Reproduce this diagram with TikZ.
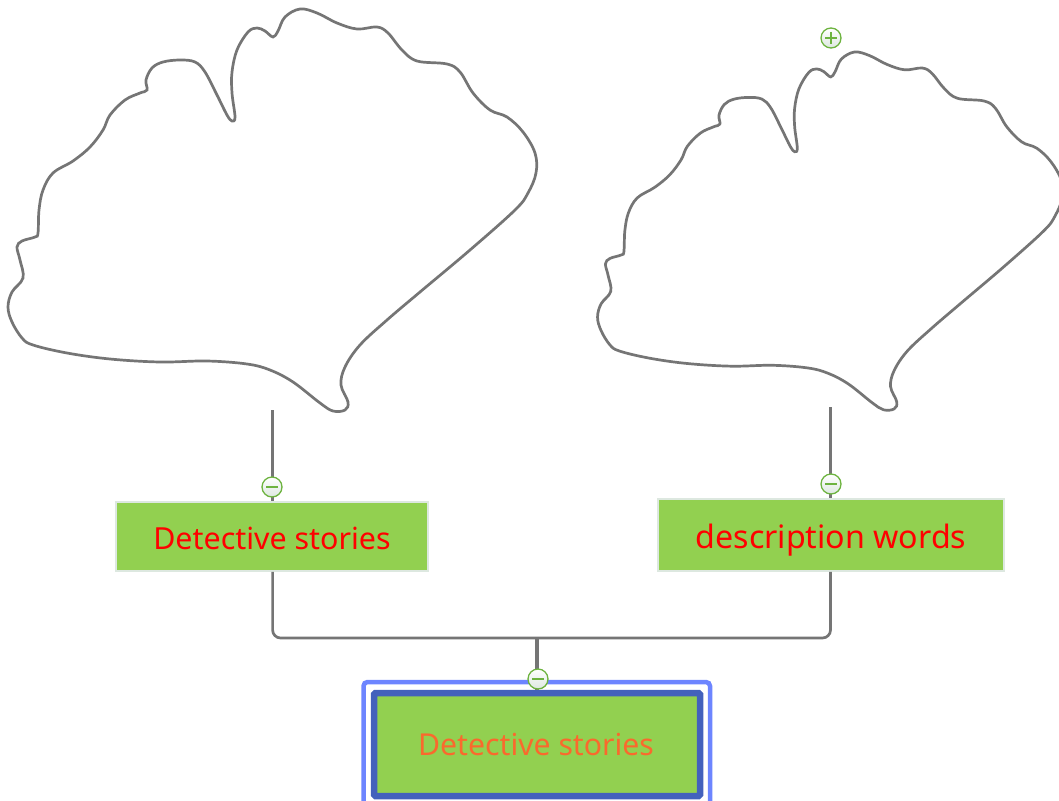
\documentclass[tikz,border=0pt]{standalone}
\usepackage{fontspec}
\setmainfont{Noto Sans}
\usetikzlibrary{calc}
\definecolor{leaf}{HTML}{92D050}
\definecolor{edge}{HTML}{757575}
\definecolor{ringdark}{HTML}{4361BC}
\definecolor{ringlight}{HTML}{6D85FF}
\definecolor{glow}{HTML}{DDE8E0}
\definecolor{iconline}{HTML}{6DB33F}
\definecolor{maintext}{RGB}{250,105,45}
\newcommand{\cloudshape}{plot[smooth cycle,tension=0.6] coordinates {(232,121) (235,117) (232,93) (232,72) (237,50) (248,32) (257,28) (265,31) (273,37) (278,31) (285,17) (300,9) (317,13) (337,23) (357,29) (377,27) (388,33) (402,50) (417,61) (447,64) (460,72) (473,93) (490,110) (507,117) (523,132) (535,153) (536,173) (528,193) (515,210) (470,250) (420,292) (387,320) (360,345) (345,367) (341,385) (348,402) (345,410) (333,411) (320,403) (293,382) (270,370) (247,364) (207,361) (160,362) (110,359) (67,353) (33,345) (22,338) (12,322) (8,307) (12,292) (23,278) (20,260) (17,247) (22,241) (35,237) (38,233) (39,210) (43,190) (53,173) (73,161) (90,147) (103,130) (110,115) (125,100) (140,93) (147,90) (146,80) (152,68) (163,62) (180,60) (195,62) (205,72) (217,95) (227,115)}}
\tikzset{
  x=1pt,y=-1pt,
  cloudline/.style={draw=edge,line width=2.7pt,fill=white},
  leafbox/.style={draw=glow,line width=1.5pt,fill=leaf,inner sep=0pt,text=red},
  link/.style={draw=edge,line width=2.7pt},
  trunk/.style={draw=edge,line width=3.5pt},
  icon/.style={circle,draw=iconline,line width=1.3pt,top color=white,bottom color=glow,minimum size=20pt,inner sep=0pt},
  iconbar/.style={draw=iconline,line width=1.2pt},
}
\begin{document}
\begin{tikzpicture}
\useasboundingbox (0,0) rectangle (1059,800);
\clip (0,0) rectangle (1059,800);
\path[cloudline] \cloudshape;
\begin{scope}[shift={(590.5pt,-44pt)},xscale=0.88,yscale=0.89]
\path[cloudline] \cloudshape;
\end{scope}
\coordinate (leftcloud) at (272.6,410);
\coordinate (rightcloud) at (830.5,407);
\coordinate (junction) at (537,638);
\node[leafbox,minimum width=312pt,minimum height=69pt,font=\fontsize{30.4}{36}\selectfont,text height=25pt,text depth=0pt] (stories) at (272,536.5) {Detective stories};
\node[leafbox,minimum width=346pt,minimum height=72pt,font=\fontsize{32.2}{36}\selectfont,text height=26.5pt,text depth=0pt] (words) at (831,535) {description words};
\draw[draw=ringlight,line width=4.5pt,rounded corners=4pt] (363.5,682) rectangle (710,830);
\node[draw=ringdark,line width=6.5pt,fill=leaf,rounded corners=1.5pt,inner sep=0pt,minimum width=326pt,minimum height=103pt,font=\fontsize{30.2}{36}\selectfont,text=maintext,text height=21pt,text depth=0pt,xshift=-0.0pt] (main) at (537,744.5) {\kern-2pt Detective stories};
\draw[link] (leftcloud) -- (stories.north -| leftcloud);
\draw[link] (rightcloud) -- (words.north -| rightcloud);
\draw[link,rounded corners=8pt] (stories.south -| leftcloud) |- (junction) -| (words.south -| rightcloud);
\draw[trunk] (junction) -- (main.north -| junction);
\node[icon] (m1) at (272,487) {};
\draw[iconbar] ($(m1)+(-6,0)$) -- ($(m1)+(6,0)$);
\node[icon] (m2) at (831,484) {};
\draw[iconbar] ($(m2)+(-6,0)$) -- ($(m2)+(6,0)$);
\node[icon] (m3) at (538,679) {};
\draw[iconbar] ($(m3)+(-6,0)$) -- ($(m3)+(6,0)$);
\node[icon] (p1) at (831,38) {};
\draw[iconbar] ($(p1)+(-6,0)$) -- ($(p1)+(6,0)$);
\draw[iconbar] ($(p1)+(0,-6)$) -- ($(p1)+(0,6)$);
\end{tikzpicture}
\end{document}
